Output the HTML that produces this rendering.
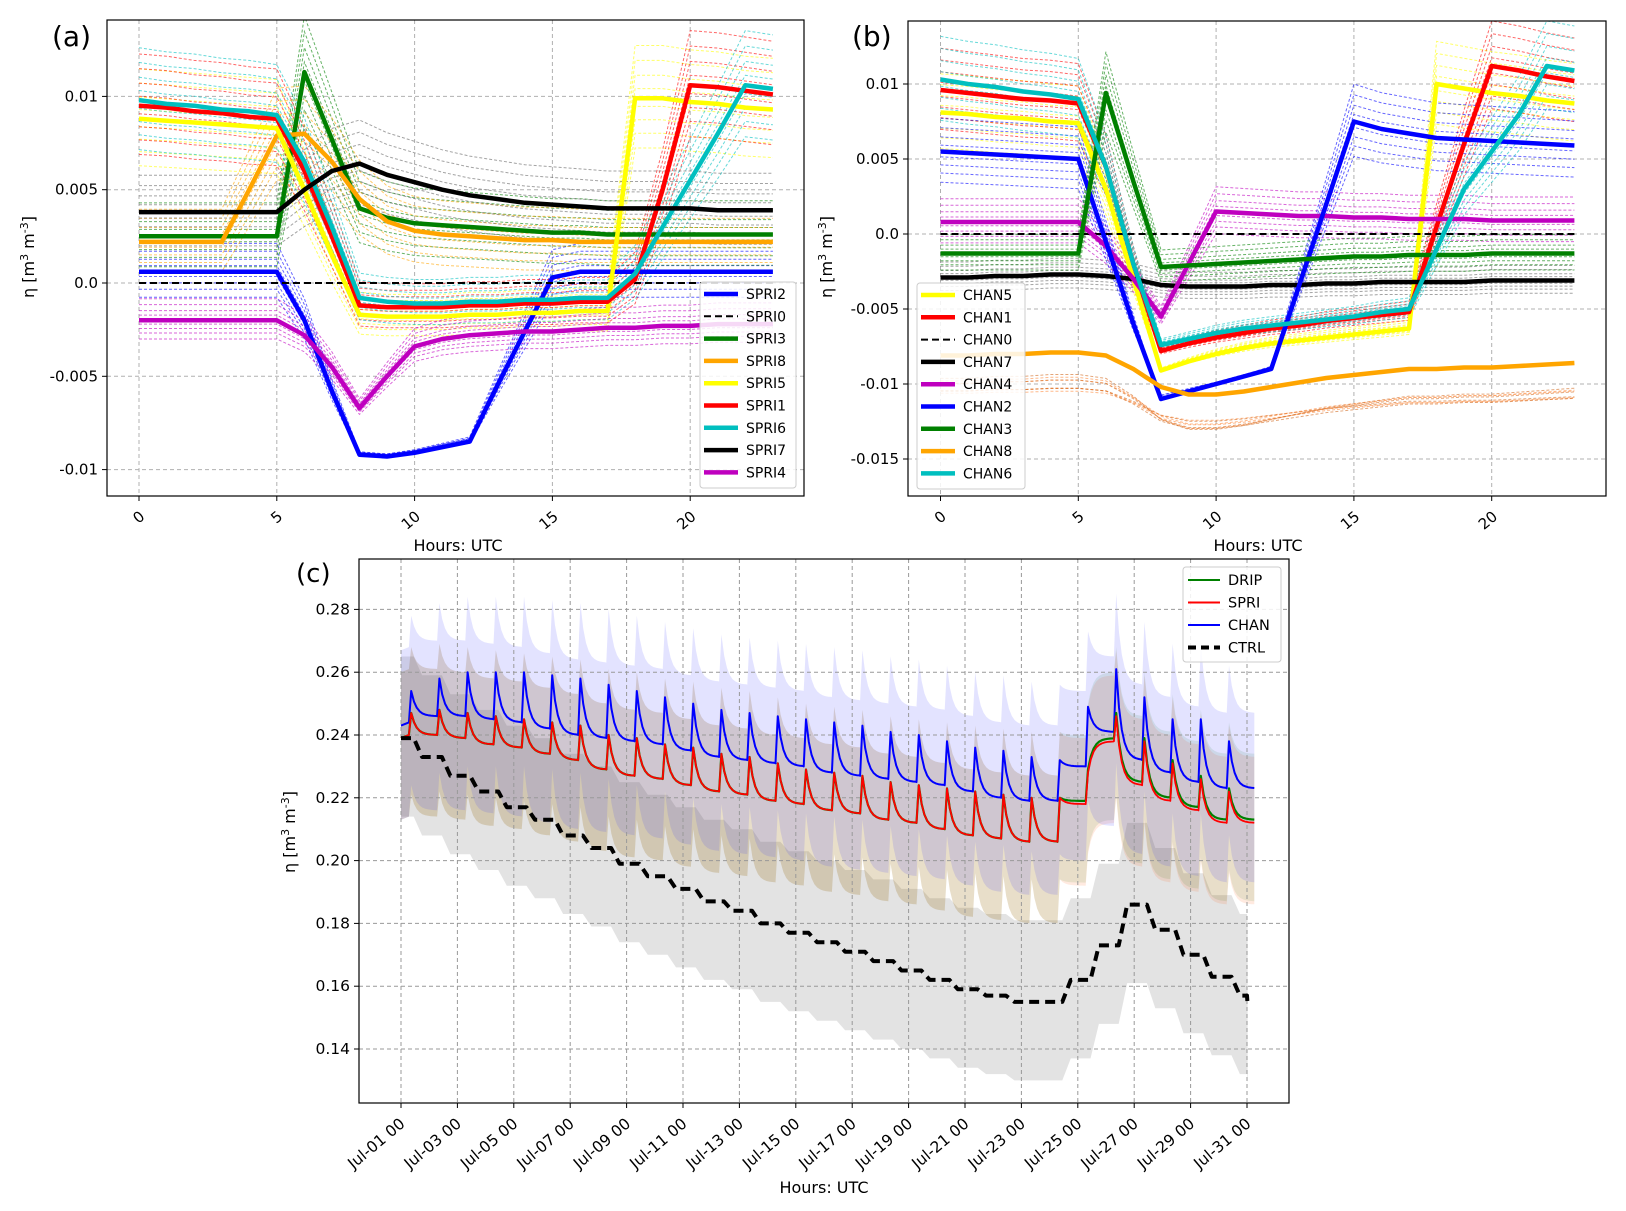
<!DOCTYPE html>
<html><head><meta charset="utf-8">
<style>
html,body{margin:0;padding:0;background:#fff;}
svg{display:block;font-family:"DejaVu Sans","Liberation Sans",sans-serif;}
</style></head>
<body>
<svg id="fig" width="1626" height="1211" viewBox="0 0 1626 1211" xmlns="http://www.w3.org/2000/svg"></svg>
<script>
// ---------- Panel (a) data ----------
const hours = [0,1,2,3,4,5,6,7,8,9,10,11,12,13,14,15,16,17,18,19,20,21,22,23];
const aNames = ["SPRI2","SPRI0","SPRI3","SPRI8","SPRI5","SPRI1","SPRI6","SPRI7","SPRI4"];
const aColors = ["#0000ff","#000000","#008000","#ffa500","#ffff00","#ff0000","#00bfbf","#000000","#bf00bf"];
const aSPRI2 = [0.0006,0.0006,0.0006,0.0006,0.0006,0.0006,-0.002,-0.0058,-0.0092,-0.0093,-0.0091,-0.0088,-0.0085,-0.0055,-0.0026,0.0003,0.0006,0.0006,0.0006,0.0006,0.0006,0.0006,0.0006,0.0006];
const aSPRI0 = [0,0,0,0,0,0,0,0,0,0,0,0,0,0,0,0,0,0,0,0,0,0,0,0];
const aSPRI3 = [0.0025,0.0025,0.0025,0.0025,0.0025,0.0025,0.0113,0.0077,0.004,0.0035,0.0032,0.0031,0.003,0.0029,0.0028,0.0027,0.0027,0.0026,0.0026,0.0026,0.0026,0.0026,0.0026,0.0026];
const aSPRI8 = [0.0022,0.0022,0.0022,0.0022,0.005,0.0079,0.008,0.0065,0.0045,0.0033,0.0028,0.0026,0.0025,0.0024,0.0023,0.0023,0.0022,0.0022,0.0022,0.0022,0.0022,0.0022,0.0022,0.0022];
const aSPRI5 = [0.0088,0.0087,0.0086,0.0085,0.0084,0.0083,0.005,0.0015,-0.0017,-0.0018,-0.0018,-0.0018,-0.0017,-0.0017,-0.0016,-0.0016,-0.0015,-0.0015,0.0099,0.0099,0.0097,0.0096,0.0094,0.0093];
const aSPRI1 = [0.0095,0.0094,0.0092,0.0091,0.0089,0.0088,0.006,0.0025,-0.0012,-0.0013,-0.0013,-0.0013,-0.0012,-0.0012,-0.0011,-0.0011,-0.001,-0.001,0.0002,0.005,0.0106,0.0105,0.0103,0.0101];
const aSPRI6 = [0.0098,0.0096,0.0095,0.0093,0.0092,0.009,0.0065,0.003,-0.0008,-0.001,-0.0011,-0.0011,-0.001,-0.001,-0.0009,-0.0009,-0.0008,-0.0008,0.0005,0.003,0.0055,0.008,0.0106,0.0104];
const aSPRI7 = [0.0038,0.0038,0.0038,0.0038,0.0038,0.0038,0.005,0.006,0.0064,0.0058,0.0054,0.005,0.0047,0.0045,0.0043,0.0042,0.0041,0.004,0.004,0.004,0.004,0.0039,0.0039,0.0039];
const aSPRI4 = [-0.002,-0.002,-0.002,-0.002,-0.002,-0.002,-0.0028,-0.0045,-0.0067,-0.005,-0.0034,-0.003,-0.0028,-0.0027,-0.0026,-0.0026,-0.0025,-0.0024,-0.0024,-0.0023,-0.0023,-0.0022,-0.0022,-0.0022];
const aSeries = [aSPRI2,aSPRI0,aSPRI3,aSPRI8,aSPRI5,aSPRI1,aSPRI6,aSPRI7,aSPRI4];
const aYTicks = [0.01,0.005,0.0,-0.005,-0.01];
const aYTickLabels = ["0.01","0.005","0.0","-0.005","-0.01"];

// ---------- Panel (b) data ----------
const bNames = ["CHAN5","CHAN1","CHAN0","CHAN7","CHAN4","CHAN2","CHAN3","CHAN8","CHAN6"];
const bColors = ["#ffff00","#ff0000","#000000","#000000","#bf00bf","#0000ff","#008000","#ffa500","#00bfbf"];
const bCHAN5 = [0.0081,0.008,0.0078,0.0077,0.0075,0.0074,0.003,-0.003,-0.0091,-0.0085,-0.008,-0.0076,-0.0073,-0.0071,-0.0069,-0.0067,-0.0065,-0.0063,0.01,0.0097,0.0094,0.0092,0.0089,0.0087];
const bCHAN1 = [0.0096,0.0094,0.0092,0.009,0.0089,0.0087,0.0045,-0.002,-0.0078,-0.0073,-0.0069,-0.0066,-0.0063,-0.0061,-0.0058,-0.0056,-0.0054,-0.0052,0.0005,0.006,0.0112,0.0109,0.0105,0.0102];
const bCHAN0 = [0,0,0,0,0,0,0,0,0,0,0,0,0,0,0,0,0,0,0,0,0,0,0,0];
const bCHAN7 = [-0.0029,-0.0029,-0.0028,-0.0028,-0.0027,-0.0027,-0.0028,-0.003,-0.0034,-0.0035,-0.0035,-0.0035,-0.0034,-0.0034,-0.0033,-0.0033,-0.0032,-0.0032,-0.0032,-0.0032,-0.0031,-0.0031,-0.0031,-0.0031];
const bCHAN4 = [0.0008,0.0008,0.0008,0.0008,0.0008,0.0008,-0.0008,-0.003,-0.0055,-0.002,0.0015,0.0014,0.0013,0.0012,0.0012,0.0011,0.0011,0.001,0.001,0.001,0.0009,0.0009,0.0009,0.0009];
const bCHAN2 = [0.0055,0.0054,0.0053,0.0052,0.0051,0.005,-0.0005,-0.006,-0.011,-0.0105,-0.01,-0.0095,-0.009,-0.0035,0.002,0.0075,0.007,0.0067,0.0064,0.0063,0.0062,0.0061,0.006,0.0059];
const bCHAN3 = [-0.0013,-0.0013,-0.0013,-0.0013,-0.0013,-0.0013,0.0094,0.0035,-0.0022,-0.0021,-0.002,-0.0019,-0.0018,-0.0017,-0.0016,-0.0015,-0.0015,-0.0014,-0.0014,-0.0014,-0.0013,-0.0013,-0.0013,-0.0013];
const bCHAN8 = [-0.0081,-0.0081,-0.008,-0.008,-0.0079,-0.0079,-0.0081,-0.009,-0.0102,-0.0107,-0.0107,-0.0105,-0.0102,-0.0099,-0.0096,-0.0094,-0.0092,-0.009,-0.009,-0.0089,-0.0089,-0.0088,-0.0087,-0.0086];
const bCHAN6 = [0.0103,0.01,0.0098,0.0095,0.0093,0.009,0.0045,-0.002,-0.0074,-0.007,-0.0066,-0.0063,-0.0061,-0.0059,-0.0057,-0.0055,-0.0052,-0.005,-0.001,0.003,0.0055,0.008,0.0112,0.0109];
const bSeries = [bCHAN5,bCHAN1,bCHAN0,bCHAN7,bCHAN4,bCHAN2,bCHAN3,bCHAN8,bCHAN6];
const bYTicks = [0.01,0.005,0.0,-0.005,-0.01,-0.015];
const bYTickLabels = ["0.01","0.005","0.0","-0.005","-0.01","-0.015"];
const hourTicks = [0,5,10,15,20];
const hourTickLabels = ["0","5","10","15","20"];
// ensemble member offsets around each main line
const ensOffsets = [-0.0016,-0.0011,-0.0007,-0.0003,0.0004,0.0008,0.0013,0.0018];
// per-series ensemble spread / shift (panel b, CHAN8 spreads far below)
const aSpread = [1,1,1,1,1,1,1,1,1];
const aShift = [0,0,0,0,0,0,0,0,0];
const bSpread = [1,1,1,1,1,1,1,2.2,1];
const bShift = [0,0,0,0,0,0,0,-0.0022,0];

// ---------- Panel (c) data ----------
const cChanPeak = [0.254,0.258,0.260,0.260,0.260,0.259,0.258,0.256,0.254,0.252,0.250,0.248,0.247,0.246,0.245,0.244,0.243,0.241,0.240,0.238,0.236,0.235,0.233,0.232,0.249,0.261,0.252,0.245,0.245,0.238];
const cChanTrough = [0.244,0.246,0.246,0.245,0.244,0.242,0.240,0.239,0.238,0.237,0.235,0.233,0.232,0.231,0.230,0.228,0.227,0.226,0.225,0.224,0.222,0.220,0.219,0.219,0.230,0.241,0.232,0.228,0.225,0.223];
const cSpriPeak = [0.247,0.248,0.247,0.246,0.245,0.244,0.243,0.240,0.239,0.237,0.236,0.234,0.233,0.231,0.229,0.228,0.227,0.225,0.224,0.223,0.222,0.221,0.220,0.220,0.228,0.246,0.238,0.231,0.226,0.222];
const cSpriTrough = [0.240,0.240,0.239,0.237,0.236,0.234,0.232,0.229,0.227,0.226,0.224,0.222,0.221,0.219,0.218,0.216,0.215,0.213,0.212,0.210,0.208,0.207,0.206,0.206,0.218,0.238,0.224,0.219,0.216,0.212];
const cDripPeak = [0.247,0.248,0.247,0.246,0.245,0.244,0.243,0.240,0.239,0.237,0.236,0.234,0.233,0.231,0.229,0.228,0.227,0.225,0.224,0.223,0.222,0.221,0.220,0.220,0.229,0.247,0.239,0.232,0.227,0.223];
const cDripTrough = [0.240,0.240,0.239,0.237,0.236,0.234,0.232,0.229,0.227,0.226,0.224,0.222,0.221,0.219,0.218,0.216,0.215,0.213,0.212,0.210,0.208,0.207,0.206,0.206,0.219,0.239,0.225,0.220,0.217,0.213];
const cCtrl = [0.239,0.233,0.227,0.222,0.217,0.213,0.208,0.204,0.199,0.195,0.191,0.187,0.184,0.180,0.177,0.174,0.171,0.168,0.165,0.162,0.159,0.157,0.155,0.155,0.162,0.173,0.186,0.178,0.170,0.163,0.157];
const cYTicks = [0.14,0.16,0.18,0.20,0.22,0.24,0.26,0.28];
const cYTickLabels = ["0.14","0.16","0.18","0.20","0.22","0.24","0.26","0.28"];
const cXTicks = [0,2,4,6,8,10,12,14,16,18,20,22,24,26,28,30];
const cXTickLabels = ["Jul-01 00","Jul-03 00","Jul-05 00","Jul-07 00","Jul-09 00","Jul-11 00","Jul-13 00","Jul-15 00","Jul-17 00","Jul-19 00","Jul-21 00","Jul-23 00","Jul-25 00","Jul-27 00","Jul-29 00","Jul-31 00"];
const cLegendNames = ["DRIP","SPRI","CHAN","CTRL"];

// ---------- helpers ----------
const NS = "http://www.w3.org/2000/svg";
const fig = document.getElementById('fig');
function mk(tag, attrs, parent){
  const e = document.createElementNS(NS, tag);
  for (const k in attrs) e.setAttribute(k, attrs[k]);
  (parent||fig).appendChild(e);
  return e;
}
function txt(s, attrs, parent){ const t = mk('text', attrs, parent); t.textContent = s; return t; }

function hourPanel(p){
  const g = mk('g', {});
  
  
  const xs = h => p.x0 + h * p.xk;
  const ys = v => p.y0 - v * p.yk;
  mk('rect', {x:p.L, y:p.T, width:p.R-p.L, height:p.B-p.T, fill:'#fff'}, g);
  hourTicks.forEach((h,i)=>{
    const gl = mk('line',{x1:xs(h),x2:xs(h),y1:p.T,y2:p.B,stroke:'#b0b0b0','stroke-dasharray':'4,3','stroke-width':1},g);
    
    
    mk('line',{x1:xs(h),x2:xs(h),y1:p.B,y2:p.B+5,stroke:'#000'},g);
    const lx = xs(h), ly = p.B+14;
    const t = txt(hourTickLabels[i],{x:lx,y:ly,'font-size':15,'text-anchor':'end',transform:`rotate(-40 ${lx} ${ly})`,dy:'0.7em'},g);
    
    
  });
  p.yTicks.forEach((v,i)=>{
    const gl = mk('line',{x1:p.L,x2:p.R,y1:ys(v),y2:ys(v),stroke:'#b0b0b0','stroke-dasharray':'4,3','stroke-width':1},g);
    
    
    mk('line',{x1:p.L-5,x2:p.L,y1:ys(v),y2:ys(v),stroke:'#000'},g);
    const t = txt(p.yLabels[i],{x:p.L-9,y:ys(v)+5,'font-size':15,'text-anchor':'end'},g);
    
    
  });
  const cp = mk('clipPath',{id:p.id+'-clip'},g); mk('rect',{x:p.L,y:p.T,width:p.R-p.L,height:p.B-p.T},cp);
  p.series.forEach((s,si)=>{
    if (p.names[si].endsWith('0')) return;
    const sp = p.spread[si], sh = p.shift[si];
    ensOffsets.forEach((o,oi)=>{
      const scale = 1 + (oi-3.5)*0.04*sp;
      let col = p.colors[si]==='#000000'?'#666':p.colors[si];
      if (sp>1) col = oi%2 ? '#d2691e' : '#ff8c40';
      const d = hours.map((h,k)=>(k?'L':'M')+xs(h).toFixed(1)+','+ys(s[k]*scale+o*0.8*sp+sh).toFixed(1)).join(' ');
      const pl = mk('path',{d:d,fill:'none',stroke:col,'stroke-width':1,'stroke-dasharray':'3,2',opacity:0.6,'clip-path':`url(#${p.id}-clip)`},g);
      
      
    });
  });
  p.series.forEach((s,si)=>{
    const d = hours.map((h,k)=>(k?'L':'M')+xs(h).toFixed(1)+','+ys(s[k]).toFixed(1)).join(' ');
    const dashed = p.names[si].endsWith('0');
    const pl = mk('path',{d:d,fill:'none',stroke:p.colors[si],'stroke-width':dashed?2:4.5,'stroke-dasharray':dashed?'7,4':'none','stroke-linejoin':'round'},g);
    
    
  });
  mk('rect',{x:p.L,y:p.T,width:p.R-p.L,height:p.B-p.T,fill:'none',stroke:'#000','stroke-width':1.2},g);
  const lg = mk('g',{},g);
  
  
  mk('rect',{x:p.lx,y:p.ly,width:p.lw,height:206,fill:'#fff','fill-opacity':0.85,stroke:'#ccc',rx:3},lg);
  p.names.forEach((n,i)=>{
    const yy = p.ly+12+i*22.3;
    const dashed = n.endsWith('0');
    const it = mk('g',{},lg);
    
    
    mk('line',{x1:p.lx+4,x2:p.lx+38,y1:yy,y2:yy,stroke:p.colors[i],'stroke-width':dashed?2:4.5,'stroke-dasharray':dashed?'7,4':'none'},it);
    txt(n,{x:p.lx+46,y:yy+5,'font-size':14},it);
  });
  const pt = txt(p.tag,{x:p.tx,y:46,'font-size':28},g);
  
  
  const xt = txt('Hours: UTC',{x:p.xlx,y:551,'font-size':16,'text-anchor':'middle'},g);
  
  
  const yt = txt('',{x:0,y:0,'font-size':16,'text-anchor':'middle',transform:`translate(${p.ylx},257) rotate(-90)`},g);
  yt.innerHTML = 'η [m<tspan dy="-6" font-size="11">3</tspan><tspan dy="6"> m</tspan><tspan dy="-6" font-size="11">-3</tspan><tspan dy="6">]</tspan>';
  
  
}

hourPanel({id:'panel-a',L:107,R:804,T:20,B:496,x0:139,xk:27.56,y0:283,yk:18660,series:aSeries,names:aNames,colors:aColors,spread:aSpread,shift:aShift,yTicks:aYTicks,yLabels:aYTickLabels,lx:700,ly:282,lw:96,tag:'(a)',tx:52,xlx:458,ylx:34});
hourPanel({id:'panel-b',L:908,R:1606,T:21,B:496,x0:940.5,xk:27.56,y0:234,yk:15000,series:bSeries,names:bNames,colors:bColors,spread:bSpread,shift:bShift,yTicks:bYTicks,yLabels:bYTickLabels,lx:917,ly:283,lw:108,tag:'(b)',tx:852,xlx:1258,ylx:832});

// ---------- Panel (c) ----------
(function(){
  const L=359,R=1289,T=559,B=1103;
  const xs = d => 401 + d*28.2;
  const ys = v => 735 - (v-0.24)*3140;
  const g = mk('g',{});
  
  
  const clipId='clipc';
  const cp = mk('clipPath',{id:clipId},g); mk('rect',{x:L,y:T,width:R-L,height:B-T},cp);
  function sawPts(peak, trough){
    const pts=[[0,trough[0]-0.001]];
    for(let d=0; d<peak.length; d++){
      const nt = d+1<trough.length ? trough[d+1] : trough[d];
      pts.push([d+0.28, trough[d]]);
      pts.push([d+0.36, peak[d]]);
      for(let k=1;k<=9;k++){
        const f=Math.exp(-k*0.55);
        pts.push([d+0.36+k*0.1, nt+(peak[d]-nt)*f]);
      }
    }
    return pts;
  }
  function ctrlPts(c){
    const pts=[];
    for(let d=0; d<c.length-1; d++){
      pts.push([d, c[d]]); pts.push([d+0.45, c[d]]); pts.push([d+0.75, c[d+1]]);
    }
    pts.push([30, c[30]]); pts.push([30.02, c[30]-0.003]);
    return pts;
  }
  function band(pts, up, lo, fill, name){
    let d = pts.map((p,i)=>(i?'L':'M')+xs(p[0]).toFixed(1)+','+ys(p[1]+up).toFixed(1)).join(' ');
    d += ' ' + pts.slice().reverse().map(p=>'L'+xs(p[0]).toFixed(1)+','+ys(p[1]-lo).toFixed(1)).join(' ') + ' Z';
    const b = mk('path',{d:d,fill:fill,stroke:'none','clip-path':`url(#${clipId})`},g);
    
    
  }
  function line(pts, color, w, dash, name){
    const d = pts.map((p,i)=>(i?'L':'M')+xs(p[0]).toFixed(1)+','+ys(p[1]).toFixed(1)).join(' ');
    const l = mk('path',{d:d,fill:'none',stroke:color,'stroke-width':w,'stroke-dasharray':dash,'stroke-linejoin':'round'},g);
    
    
  }
  const chan = sawPts(cChanPeak,cChanTrough), spri = sawPts(cSpriPeak,cSpriTrough), drip = sawPts(cDripPeak,cDripTrough), ctrl = ctrlPts(cCtrl);
  band(ctrl, 0.026, 0.025, 'rgba(128,128,128,0.22)', 'ctrl-band');
  band(drip, 0.021, 0.026, 'rgba(0,128,0,0.10)', 'drip-band');
  band(spri, 0.021, 0.026, 'rgba(255,80,0,0.12)', 'spri-band');
  band(chan, 0.024, 0.03, 'rgba(60,60,255,0.14)', 'chan-band');
  cXTicks.forEach((d,i)=>{
    const gl=mk('line',{x1:xs(d),x2:xs(d),y1:T,y2:B,stroke:'#999','stroke-dasharray':'4,3'},g);
    
    
    mk('line',{x1:xs(d),x2:xs(d),y1:B,y2:B+5,stroke:'#000'},g);
    const lx=xs(d)-2, ly=B+14;
    const t=txt(cXTickLabels[i],{x:lx,y:ly,'font-size':15.5,'text-anchor':'end',transform:`rotate(-40 ${lx} ${ly})`,dy:'0.7em'},g);
    
    
  });
  cYTicks.forEach((v,i)=>{
    const gl=mk('line',{x1:L,x2:R,y1:ys(v),y2:ys(v),stroke:'#999','stroke-dasharray':'4,3'},g);
    
    
    mk('line',{x1:L-5,x2:L,y1:ys(v),y2:ys(v),stroke:'#000'},g);
    const t=txt(cYTickLabels[i],{x:L-9,y:ys(v)+5,'font-size':15.5,'text-anchor':'end'},g);
    
    
  });
  line(chan,'#0000ff',2,'none','line-chan');
  line(drip,'#008000',2.2,'none','line-drip');
  line(spri,'#ff0000',1.8,'none','line-spri');
  line(ctrl,'#000','4','10,6','line-ctrl');
  mk('rect',{x:L,y:T,width:R-L,height:B-T,fill:'none',stroke:'#000','stroke-width':1.2},g);
  const lg = mk('g',{},g);
  
  
  mk('rect',{x:1183,y:567,width:98,height:95,fill:'#fff','fill-opacity':0.85,stroke:'#ccc',rx:3},lg);
  const lc=['#008000','#ff0000','#0000ff','#000'];
  cLegendNames.forEach((n,i)=>{
    const yy=580+i*22.5;
    const it=mk('g',{},lg);
    
    
    mk('line',{x1:1188,x2:1220,y1:yy,y2:yy,stroke:lc[i],'stroke-width':n==='CTRL'?4:2,'stroke-dasharray':n==='CTRL'?'8,5':'none'},it);
    txt(n,{x:1228,y:yy+5,'font-size':14.5},it);
  });
  const pt=txt('(c)',{x:296,y:582,'font-size':26},g);
  
  
  const xt=txt('Hours: UTC',{x:824,y:1193,'font-size':16,'text-anchor':'middle'},g);
  
  
  const yt=txt('',{x:0,y:0,'font-size':16,'text-anchor':'middle',transform:'translate(295,832) rotate(-90)'},g);
  yt.innerHTML='η [m<tspan dy="-6" font-size="11">3</tspan><tspan dy="6"> m</tspan><tspan dy="-6" font-size="11">-3</tspan><tspan dy="6">]</tspan>';
  
  
})();
</script>
</body></html>
